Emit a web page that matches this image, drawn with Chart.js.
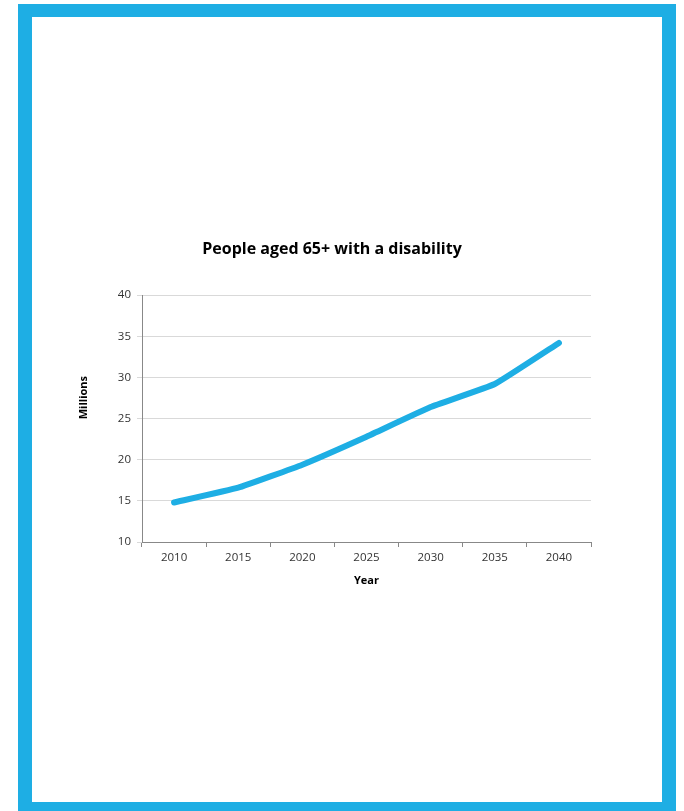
<!DOCTYPE html>
<html>
<head>
<meta charset="utf-8">
<script src="https://cdn.jsdelivr.net/npm/chart.js@4.4.1/dist/chart.umd.min.js"></script>
<style>
  html, body { margin: 0; padding: 0; background: #fff; }
  #frame {
    position: absolute; left: 18px; top: 4px; width: 630px; height: 785px;
    border: 14px solid #1eaee4; border-bottom-width: 9px; border-top-width: 13px;
  }
  #wrap { position: absolute; left: 0; top: 0; width: 684px; height: 811px; }
</style>
</head>
<body>
<div id="frame"></div>
<div id="wrap"><canvas id="chart"></canvas></div>
<script>
// Data
const years = ['2010', '2015', '2020', '2025', '2030', '2035', '2040'];
const disabledMillions = [14.8, 16.6, 19.4, 22.8, 26.4, 29.2, 34.2];
const yTicks = [10, 15, 20, 25, 30, 35, 40];
const yTitle = 'Millions';

const tickFont = { family: 'Open Sans', size: 11.5 };
const boldFont = { family: 'Open Sans', size: 11, weight: 'bold' };

// Y axis title sits above the middle of the axis in the original, so draw it ourselves
const yTitlePlugin = {
    id: 'yTitle',
    afterDraw(chart) {
        const ctx = chart.ctx;
        const area = chart.chartArea;
        ctx.save();
        ctx.translate(84, area.top + (area.bottom - area.top) * 0.415);
        ctx.rotate(-Math.PI / 2);
        ctx.font = 'bold 11px "Open Sans"';
        ctx.fillStyle = '#000';
        ctx.textAlign = 'center';
        ctx.textBaseline = 'middle';
        ctx.fillText(yTitle, 0, 0);
        ctx.restore();
    }
};

new Chart(document.getElementById('chart'), {
    type: 'line',
    data: {
        labels: years,
        datasets: [{
            label: 'People aged 65+ with a disability',
            data: disabledMillions,
            borderColor: '#1eaee4',
            borderWidth: 6,
            borderCapStyle: 'round',
            borderJoinStyle: 'round',
            tension: 0.1,
            pointRadius: 0,
            fill: false
        }]
    },
    options: {
        responsive: true,
        maintainAspectRatio: false,
        animation: false,
        layout: { padding: { left: 73, right: 93, top: 0, bottom: 220 } },
        plugins: {
            legend: { display: false },
            tooltip: { enabled: false },
            title: {
                display: true,
                text: 'People aged 65+ with a disability',
                color: '#000',
                font: { family: 'Open Sans', size: 16, weight: 'bold' },
                padding: { top: 240, bottom: 36 }
            }
        },
        scales: {
            x: {
                offset: true,
                grid: { offset: true, drawOnChartArea: false, tickLength: 5, color: '#888' },
                border: { color: '#888' },
                ticks: { color: '#333', font: tickFont, padding: 4 },
                title: { display: true, text: 'Year', color: '#000', font: boldFont, padding: { top: 2, bottom: 4 } },
                afterFit: s => { s.height = 49; }
            },
            y: {
                min: 10,
                max: 40,
                afterBuildTicks: s => { s.ticks = yTicks.map(v => ({ value: v })); },
                grid: { color: '#d9d9d9', tickLength: 5 },
                border: { color: '#888' },
                ticks: { color: '#333', font: tickFont, padding: 6 },
                afterFit: s => { s.width = 69; }
            }
        }
    },
    plugins: [yTitlePlugin]
});
</script>
</body>
</html>
